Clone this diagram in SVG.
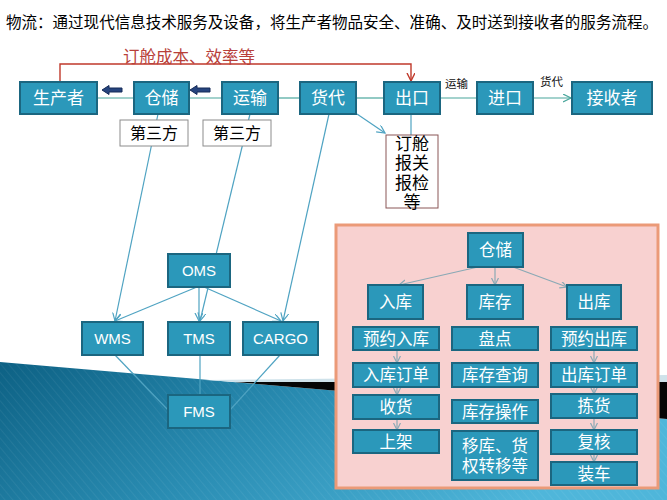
<svg xmlns="http://www.w3.org/2000/svg" width="667" height="500" viewBox="0 0 667 500">
<defs>
<style>
text{font-family:"Liberation Sans","Noto Sans CJK SC",sans-serif;}
.n rect{fill:#2b98ba;stroke:#1b6680;stroke-width:2;}
.n text{fill:#ffffff;font-size:17px;text-anchor:middle;}
.e text{font-size:15px;}
.p rect{fill:#2b98ba;stroke:#1b6680;stroke-width:2;}
.p text{fill:#ffffff;font-size:16.5px;text-anchor:middle;}
.w rect{fill:#ffffff;stroke:#8c8c8c;stroke-width:1;}
.w text{fill:#000000;font-size:16px;text-anchor:middle;}
.g{stroke:#49a69c;stroke-width:1.2;fill:none;}
.t{stroke:#4fa3c2;stroke-width:1.2;fill:none;}
.s{stroke:#8aa9b5;stroke-width:1.2;fill:none;}
.blk{fill:#26447e;stroke:#142a58;stroke-width:1;}
</style>
<linearGradient id="bg" x1="0" y1="0" x2="1" y2="0.3">
<stop offset="0" stop-color="#0d6184"/>
<stop offset="0.5" stop-color="#2a8db3"/>
<stop offset="1" stop-color="#4fb6da"/>
</linearGradient>
<pattern id="st" width="6" height="6" patternUnits="userSpaceOnUse" patternTransform="rotate(-40)">
<line x1="0" y1="0" x2="0" y2="6" stroke="#ffffff" stroke-opacity="0.07" stroke-width="1.5"/>
</pattern>
<marker id="at" markerWidth="10" markerHeight="10" refX="8" refY="4" orient="auto" markerUnits="userSpaceOnUse">
<path d="M0,0 L8,4 L0,8" fill="none" stroke="#4fa3c2" stroke-width="1.2"/>
</marker>
<marker id="ag" markerWidth="10" markerHeight="10" refX="8" refY="4" orient="auto" markerUnits="userSpaceOnUse">
<path d="M0,0 L8,4 L0,8" fill="none" stroke="#49a69c" stroke-width="1.2"/>
</marker>
<marker id="ar" markerWidth="10" markerHeight="10" refX="8" refY="4" orient="auto" markerUnits="userSpaceOnUse">
<path d="M0,0 L8,4 L0,8" fill="none" stroke="#c0392b" stroke-width="1.4"/>
</marker>
<marker id="as" markerWidth="10" markerHeight="10" refX="7" refY="3.5" orient="auto" markerUnits="userSpaceOnUse">
<path d="M0,0 L7,3.5 L0,7" fill="none" stroke="#8aa9b5" stroke-width="1.2"/>
</marker>
</defs>
<rect width="667" height="500" fill="#ffffff"/>
<g id="background">
<path d="M0,362 L667,419 L667,500 L0,500 Z" fill="url(#bg)"/>
<path d="M0,362 L667,419 L667,500 L0,500 Z" fill="url(#st)"/>
<path d="M205,380 L667,375 L667,382 L235,382 Z" fill="#cfe2ea"/>
<path d="M235,382 L667,382 L667,419 Z" fill="#050505"/>
</g>
<text x="6" y="28" font-size="15.6" fill="#000000" textLength="652" lengthAdjust="spacingAndGlyphs">物流：通过现代信息技术服务及设备，将生产者物品安全、准确、及时送到接收者的服务流程。</text>
<g id="pink-panel">
<rect x="336" y="225" width="322" height="263" fill="#f8d1d0" stroke="#eb9a78" stroke-width="3"/>
</g>
<g id="connectors">
<path class="g" d="M97,98 H134"/>
<path class="g" d="M189,98 H222"/>
<path class="g" d="M278,98 H300"/>
<path class="g" d="M356,98 H384"/>
<path class="g" d="M440,98 H477"/>
<path class="g" d="M533,98 H571" marker-end="url(#ag)"/>
<path d="M60,82 V64 H411 V81" fill="none" stroke="#c0392b" stroke-width="1.4" marker-end="url(#ar)"/>
<path class="t" d="M411,114 V135"/>
<path class="t" d="M357,114 L385,133" marker-end="url(#at)"/>
<path class="t" d="M158,114 L115,321" marker-end="url(#at)"/>
<path class="t" d="M250,114 L200,321" marker-end="url(#at)"/>
<path class="t" d="M329,114 L283,321" marker-end="url(#at)"/>
<path class="t" d="M197,287 L115,321" marker-end="url(#at)"/>
<path class="t" d="M199,287 L199,321" marker-end="url(#at)"/>
<path class="t" d="M204,287 L281,321" marker-end="url(#at)"/>
<path class="t" d="M115,355 L168,410"/>
<path class="t" d="M200,355 L200,395"/>
<path class="t" d="M280,355 L230,410"/>
<path class="s" d="M478,267 L399,285" marker-end="url(#as)"/>
<path class="s" d="M495,267 L495,285" marker-end="url(#as)"/>
<path class="s" d="M513,267 L567,287" marker-end="url(#as)"/>
<path class="s" d="M397,350 V363" marker-end="url(#as)"/>
<path class="s" d="M397,387 V395" marker-end="url(#as)"/>
<path class="s" d="M397,419 V430" marker-end="url(#as)"/>
<path class="s" d="M594,350 V363" marker-end="url(#as)"/>
<path class="s" d="M594,387 V394" marker-end="url(#as)"/>
<path class="s" d="M594,418 V430" marker-end="url(#as)"/>
<path class="s" d="M594,454 V462" marker-end="url(#as)"/>
<path class="blk" d="M102,90 L109,85.5 L109,88 L122,88 L122,92 L109,92 L109,94.5 Z"/>
<path class="blk" d="M190,90 L197,85.5 L197,88 L210,88 L210,92 L197,92 L197,94.5 Z"/>
<text x="445" y="88" font-size="11.5" fill="#111111">运输</text>
<text x="540" y="86" font-size="11.5" fill="#111111">货代</text>
<text x="123" y="63" font-size="16.5" fill="#b8403a">订舱成本、效率等</text>
</g>
<g id="n-producer" class="n"><rect x="20" y="82" width="77" height="32"/><text x="58.5" y="104">生产者</text></g>
<g id="n-storage" class="n"><rect x="134" y="82" width="55" height="32"/><text x="161.5" y="104">仓储</text></g>
<g id="n-transport" class="n"><rect x="222" y="82" width="56" height="32"/><text x="250" y="104">运输</text></g>
<g id="n-forwarder" class="n"><rect x="300" y="82" width="56" height="32"/><text x="328" y="104">货代</text></g>
<g id="n-export" class="n"><rect x="384" y="82" width="56" height="32"/><text x="412" y="104">出口</text></g>
<g id="n-import" class="n"><rect x="477" y="82" width="56" height="32"/><text x="505" y="104">进口</text></g>
<g id="n-receiver" class="n"><rect x="572" y="82" width="80" height="32"/><text x="612" y="104">接收者</text></g>
<g id="n-3p1" class="w"><rect x="120" y="120" width="68" height="26"/><text x="154" y="139">第三方</text></g>
<g id="n-3p2" class="w"><rect x="203" y="120" width="68" height="26"/><text x="237" y="139">第三方</text></g>
<g id="n-booking" class="w"><rect x="386" y="135" width="52" height="73" style="stroke:#8a5656"/>
<text x="412" y="150" style="font-size:17px">订舱</text>
<text x="412" y="169" style="font-size:17px">报关</text>
<text x="412" y="189" style="font-size:17px">报检</text>
<text x="412" y="208" style="font-size:17px">等</text></g>
<g id="n-oms" class="n e"><rect x="168" y="254" width="62" height="33"/><text x="199" y="276">OMS</text></g>
<g id="n-wms" class="n e"><rect x="82" y="322" width="61" height="33"/><text x="112.5" y="344">WMS</text></g>
<g id="n-tms" class="n e"><rect x="168" y="322" width="62" height="33"/><text x="199" y="344">TMS</text></g>
<g id="n-cargo" class="n e"><rect x="243" y="322" width="75" height="33"/><text x="280.5" y="344">CARGO</text></g>
<g id="n-fms" class="n e"><rect x="168" y="395" width="62" height="33"/><text x="199" y="417">FMS</text></g>
<g id="p-storage" class="p"><rect x="468" y="233" width="55" height="34"/><text x="495.5" y="256">仓储</text></g>
<g id="p-in" class="p"><rect x="368" y="285" width="55" height="34"/><text x="395.5" y="308">入库</text></g>
<g id="p-stock" class="p"><rect x="467" y="285" width="56" height="34"/><text x="495" y="308">库存</text></g>
<g id="p-out" class="p"><rect x="567" y="285" width="54" height="34"/><text x="594" y="308">出库</text></g>
<g id="p-in1" class="p"><rect x="353" y="327" width="86" height="23"/><text x="396" y="344.5">预约入库</text></g>
<g id="p-in2" class="p"><rect x="353" y="363" width="86" height="24"/><text x="396" y="381">入库订单</text></g>
<g id="p-in3" class="p"><rect x="353" y="395" width="86" height="24"/><text x="396" y="413">收货</text></g>
<g id="p-in4" class="p"><rect x="353" y="430" width="86" height="23"/><text x="396" y="447.5">上架</text></g>
<g id="p-st1" class="p"><rect x="452" y="327" width="86" height="23"/><text x="495" y="344.5">盘点</text></g>
<g id="p-st2" class="p"><rect x="452" y="363" width="86" height="24"/><text x="495" y="381">库存查询</text></g>
<g id="p-st3" class="p"><rect x="452" y="400" width="86" height="23"/><text x="495" y="417.5">库存操作</text></g>
<g id="p-st4" class="p"><rect x="452" y="431" width="86" height="49"/><text x="495" y="452">移库、货</text><text x="495" y="472">权转移等</text></g>
<g id="p-out1" class="p"><rect x="551" y="327" width="86" height="23"/><text x="594" y="344.5">预约出库</text></g>
<g id="p-out2" class="p"><rect x="551" y="363" width="86" height="24"/><text x="594" y="381">出库订单</text></g>
<g id="p-out3" class="p"><rect x="551" y="394" width="86" height="24"/><text x="594" y="412">拣货</text></g>
<g id="p-out4" class="p"><rect x="551" y="430" width="86" height="24"/><text x="594" y="448">复核</text></g>
<g id="p-out5" class="p"><rect x="551" y="462" width="86" height="23"/><text x="594" y="479.5">装车</text></g>
</svg>
